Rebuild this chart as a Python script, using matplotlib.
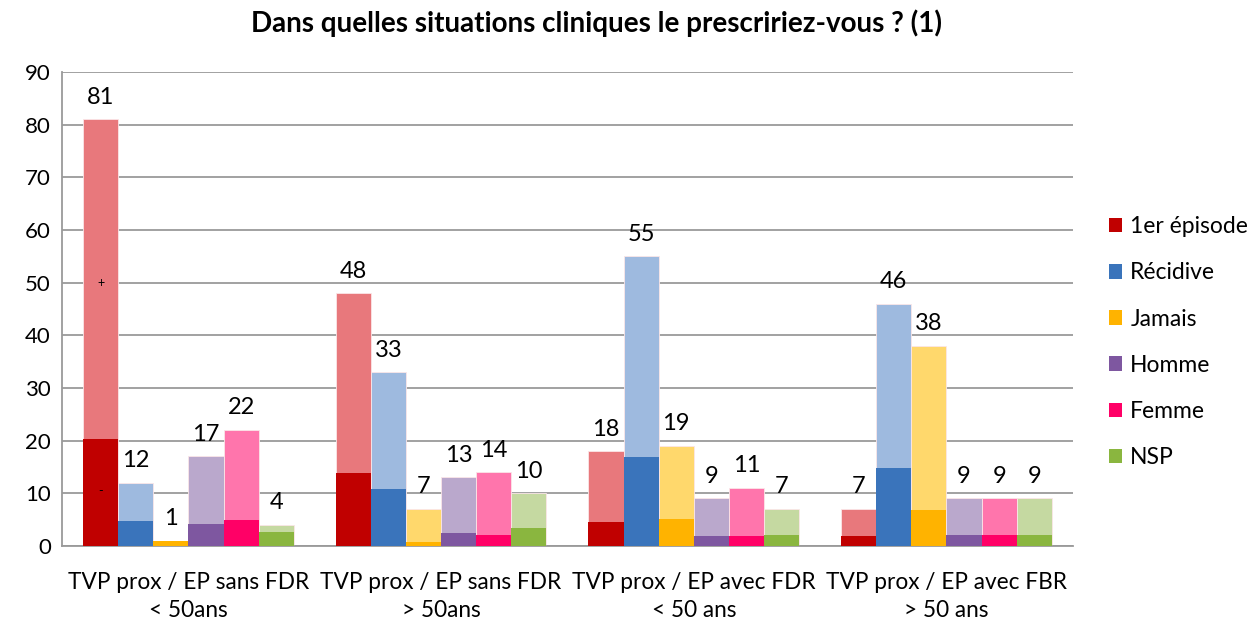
import matplotlib.pyplot as plt
import numpy as np

# --- Data ---
groups = ["TVP prox / EP sans FDR\n< 50ans", "TVP prox / EP sans FDR\n> 50ans",
          "TVP prox / EP avec FDR\n< 50 ans", "TVP prox / EP avec FBR\n> 50 ans"]
series = ["1er épisode", "Récidive", "Jamais", "Homme", "Femme", "NSP"]

# total (light bar, labelled) per series, one value per group
totals = {
    "1er épisode": [81, 48, 18, 7],
    "Récidive":    [12, 33, 55, 46],
    "Jamais":      [1, 7, 19, 38],
    "Homme":       [17, 13, 9, 9],
    "Femme":       [22, 14, 11, 9],
    "NSP":         [4, 10, 7, 9],
}
# lower dark part of each bar
inner = {
    "1er épisode": [20.3, 13.8, 4.6, 1.8],
    "Récidive":    [4.7, 10.8, 16.9, 14.7],
    "Jamais":      [1.0, 0.8, 5.1, 6.8],
    "Homme":       [4.2, 2.4, 1.8, 2.0],
    "Femme":       [4.9, 2.1, 1.8, 2.0],
    "NSP":         [2.7, 3.3, 2.1, 2.0],
}

dark_colors = ["#C00000", "#3A74BB", "#FFB300", "#7E57A0", "#FF0066", "#8AB63F"]
light_colors = ["#E8787C", "#9EBADF", "#FFD86C", "#BAA8CC", "#FF75AC", "#C5D9A1"]

plt.rcParams['font.family'] = ['Lato', 'DejaVu Sans']

fig = plt.figure(figsize=(12.54, 6.21), dpi=100)
ax = fig.add_axes([0.0495, 0.121, 0.806, 0.763])

x = np.arange(len(groups))
bar_w = 0.139
n = len(series)

for i, s in enumerate(series):
    pos = x - (n - 1) / 2 * bar_w + i * bar_w
    ax.bar(pos, totals[s], width=bar_w, color=light_colors[i], edgecolor="#FBE6E8",
           linewidth=0.6, zorder=2)
    ax.bar(pos, inner[s], width=bar_w, color=dark_colors[i], label=s, zorder=3)
    for p, v in zip(pos, totals[s]):
        ax.text(p, v + 2.2, str(v), ha="center", va="bottom", fontsize=17, zorder=4)

# stray marks seen on the first bar
ax.text(x[0] - 2.5 * bar_w, 50, "+", ha="center", va="center", fontsize=9, zorder=5)
ax.text(x[0] - 2.5 * bar_w, 10.5, "-", ha="center", va="center", fontsize=9, zorder=5)

ax.set_ylim(0, 90)
ax.set_yticks(range(0, 91, 10))
ax.set_xlim(-0.5, len(groups) - 0.5)
ax.set_xticks(x)
ax.set_xticklabels(groups, fontsize=16.3, linespacing=1.4)
ax.tick_params(axis="y", labelsize=16, length=0, pad=8)
ax.tick_params(axis="x", length=0, pad=19)
ax.yaxis.grid(True, color="#9A9A9A", linewidth=1.3, zorder=0)
ax.set_axisbelow(True)
for side in ["top", "right"]:
    ax.spines[side].set_visible(False)
ax.spines["left"].set_color("#9A9A9A")
ax.spines["bottom"].set_color("#9A9A9A")
ax.spines["left"].set_linewidth(1.3)
ax.spines["bottom"].set_linewidth(1.3)

fig.suptitle("Dans quelles situations cliniques le prescririez-vous ? (1)",
             fontsize=20, fontweight="bold", x=0.476, y=0.985)

ax.legend(loc="center left", bbox_to_anchor=(1.015, 0.43), frameon=False,
          fontsize=16.5, handlelength=0.6, handleheight=0.6, labelspacing=1.1,
          handletextpad=0.35)

fig.savefig("out.png", dpi=100)
